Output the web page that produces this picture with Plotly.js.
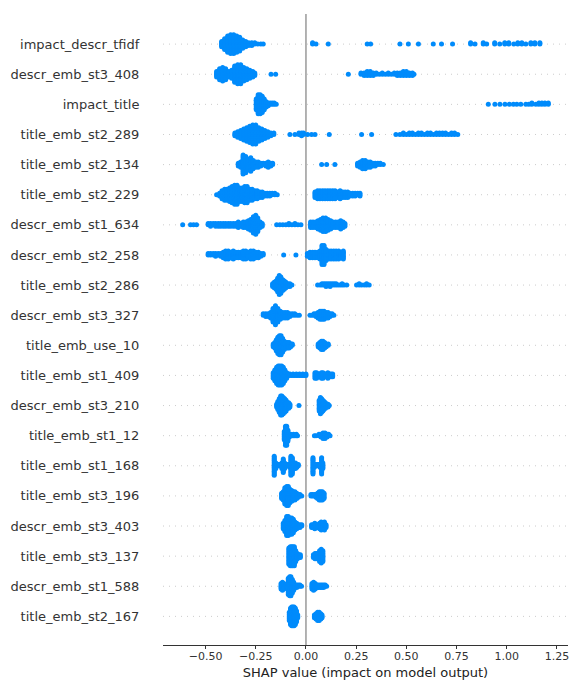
<!DOCTYPE html>
<html>
<head>
<meta charset="utf-8">
<script src="https://cdn.plot.ly/plotly-3.0.1.min.js"></script>
<style>html,body{margin:0;padding:0;background:#fff;}#chart{width:569px;height:680px;}</style>
</head>
<body>
<div id="chart"></div>
<script>
// Feature names, top to bottom
const features = ["impact_descr_tfidf","descr_emb_st3_408","impact_title","title_emb_st2_289","title_emb_st2_134","title_emb_st2_229","descr_emb_st1_634","descr_emb_st2_258","title_emb_st2_286","descr_emb_st3_327","title_emb_use_10","title_emb_st1_409","descr_emb_st3_210","title_emb_st1_12","title_emb_st1_168","title_emb_st3_196","descr_emb_st3_403","title_emb_st3_137","descr_emb_st1_588","title_emb_st2_167"];

// SHAP values per feature as [value, number of samples at that value]
const impact_descr_tfidf = [[-0.420,5],[-0.405,9],[-0.390,13],[-0.375,15],[-0.360,15],[-0.345,13],[-0.330,11],[-0.315,7],[-0.300,5],[-0.285,3],[-0.270,3],[-0.255,2],[-0.240,1],[-0.225,1],[-0.213,1],[0.033,2],[0.050,1],[0.111,1],[0.305,1],[0.322,1],[0.468,1],[0.510,1],[0.560,1],[0.634,1],[0.675,1],[0.730,1],[0.820,2],[0.842,1],[0.883,2],[0.900,1],[0.940,2],[0.965,1],[0.990,2],[1.010,2],[1.035,1],[1.055,2],[1.075,2],[1.095,1],[1.120,2],[1.140,2],[1.165,2]];
const descr_emb_st3_408 = [[-0.445,5],[-0.430,9],[-0.415,11],[-0.400,9],[-0.385,5],[-0.370,7],[-0.355,13],[-0.340,15],[-0.325,15],[-0.310,11],[-0.295,9],[-0.280,7],[-0.265,5],[-0.255,3],[-0.174,1],[-0.151,1],[0.211,1],[0.274,2],[0.290,3],[0.305,4],[0.320,4],[0.335,3],[0.350,2],[0.365,1],[0.380,2],[0.395,1],[0.410,2],[0.425,1],[0.440,2],[0.455,3],[0.470,3],[0.485,4],[0.500,4],[0.515,3],[0.530,3],[0.538,1]];
const impact_title = [[-0.248,9],[-0.238,15],[-0.228,15],[-0.218,13],[-0.208,9],[-0.198,5],[-0.188,3],[-0.178,2],[-0.168,2],[-0.158,2],[-0.148,1],[0.908,1],[0.941,1],[0.966,1],[0.991,1],[1.013,1],[1.033,1],[1.050,1],[1.070,1],[1.095,1],[1.110,1],[1.125,2],[1.145,1],[1.160,2],[1.175,2],[1.190,2],[1.207,2]];
const title_emb_st2_289 = [[-0.354,3],[-0.340,5],[-0.325,7],[-0.310,9],[-0.295,11],[-0.280,13],[-0.265,15],[-0.250,15],[-0.235,11],[-0.220,9],[-0.205,7],[-0.190,5],[-0.175,3],[-0.160,2],[-0.080,1],[-0.055,1],[-0.035,2],[-0.022,3],[-0.012,2],[0.008,1],[0.028,1],[0.045,1],[0.116,1],[0.277,1],[0.327,1],[0.448,1],[0.468,1],[0.485,2],[0.500,1],[0.515,2],[0.530,2],[0.545,1],[0.560,2],[0.575,2],[0.590,1],[0.605,2],[0.620,2],[0.635,1],[0.650,2],[0.665,2],[0.680,2],[0.695,2],[0.710,1],[0.725,2],[0.740,2],[0.756,1]];
const title_emb_st2_134 = [[-0.337,3],[-0.325,5],[-0.313,15],[-0.300,13],[-0.288,9],[-0.275,11],[-0.263,7],[-0.250,5],[-0.238,5],[-0.225,3],[-0.213,2],[-0.200,3],[-0.188,5],[-0.175,3],[-0.166,2],[0.078,1],[0.103,1],[0.144,1],[0.257,3],[0.270,5],[0.282,7],[0.295,7],[0.308,5],[0.320,5],[0.333,3],[0.345,3],[0.358,2],[0.370,2],[0.385,1]];
const title_emb_st2_229 = [[-0.445,1],[-0.430,3],[-0.418,7],[-0.405,9],[-0.393,9],[-0.380,11],[-0.368,13],[-0.355,15],[-0.343,15],[-0.330,11],[-0.318,11],[-0.305,13],[-0.293,13],[-0.280,9],[-0.268,9],[-0.255,7],[-0.243,7],[-0.230,5],[-0.218,5],[-0.205,3],[-0.193,3],[-0.180,3],[-0.168,2],[-0.155,2],[-0.143,1],[0.045,5],[0.058,7],[0.070,7],[0.083,7],[0.095,7],[0.108,7],[0.120,7],[0.133,7],[0.145,7],[0.158,5],[0.170,7],[0.183,5],[0.195,5],[0.208,5],[0.220,3],[0.233,3],[0.245,3],[0.258,2],[0.269,3]];
const descr_emb_st1_634 = [[-0.614,1],[-0.575,1],[-0.560,1],[-0.545,1],[-0.487,2],[-0.475,3],[-0.462,2],[-0.450,3],[-0.437,3],[-0.425,3],[-0.412,3],[-0.400,3],[-0.387,3],[-0.375,3],[-0.362,3],[-0.350,3],[-0.337,5],[-0.325,3],[-0.312,5],[-0.300,5],[-0.287,7],[-0.275,9],[-0.262,13],[-0.250,15],[-0.240,11],[-0.228,5],[-0.218,3],[-0.146,1],[-0.130,1],[-0.115,1],[-0.100,1],[-0.085,2],[-0.070,1],[-0.055,2],[-0.040,1],[-0.025,1],[0.023,5],[0.035,5],[0.048,5],[0.060,7],[0.073,9],[0.085,11],[0.098,11],[0.110,9],[0.123,7],[0.135,5],[0.148,5],[0.160,5],[0.173,7],[0.185,5],[0.194,3]];
const descr_emb_st2_258 = [[-0.487,2],[-0.475,2],[-0.462,2],[-0.450,3],[-0.437,2],[-0.425,3],[-0.412,5],[-0.400,7],[-0.387,7],[-0.375,5],[-0.362,7],[-0.350,5],[-0.337,5],[-0.325,5],[-0.312,7],[-0.300,7],[-0.287,5],[-0.275,7],[-0.262,7],[-0.250,5],[-0.237,5],[-0.225,3],[-0.213,2],[-0.111,1],[-0.050,1],[0.007,3],[0.020,5],[0.033,5],[0.045,5],[0.058,5],[0.070,7],[0.080,15],[0.090,15],[0.100,9],[0.113,7],[0.125,7],[0.138,7],[0.150,7],[0.163,7],[0.175,5],[0.186,7]];
const title_emb_st2_286 = [[-0.166,3],[-0.158,5],[-0.149,7],[-0.141,11],[-0.133,15],[-0.125,13],[-0.116,9],[-0.108,7],[-0.100,5],[-0.090,3],[-0.080,3],[-0.070,1],[0.058,1],[0.070,1],[0.080,2],[0.090,2],[0.100,3],[0.110,2],[0.120,3],[0.130,2],[0.140,2],[0.150,2],[0.160,1],[0.170,1],[0.180,2],[0.190,1],[0.203,1],[0.252,1],[0.265,2],[0.277,1],[0.290,1],[0.302,2],[0.315,1]];
const descr_emb_st3_327 = [[-0.213,2],[-0.200,3],[-0.188,3],[-0.176,5],[-0.164,11],[-0.152,15],[-0.140,11],[-0.128,7],[-0.116,5],[-0.104,5],[-0.092,5],[-0.080,3],[-0.068,2],[-0.056,2],[-0.044,1],[-0.033,1],[0.020,1],[0.030,1],[0.040,2],[0.050,3],[0.060,5],[0.070,7],[0.080,7],[0.090,7],[0.100,5],[0.110,5],[0.120,3],[0.130,2],[0.139,1]];
const title_emb_use_10 = [[-0.163,3],[-0.155,5],[-0.148,9],[-0.140,13],[-0.132,15],[-0.124,15],[-0.116,11],[-0.108,7],[-0.100,5],[-0.092,5],[-0.084,5],[-0.076,3],[-0.068,2],[0.061,3],[0.069,5],[0.077,7],[0.085,7],[0.093,5],[0.101,3],[0.111,2]];
const title_emb_st1_409 = [[-0.163,5],[-0.155,9],[-0.146,13],[-0.138,15],[-0.130,15],[-0.121,15],[-0.113,13],[-0.105,9],[-0.096,5],[-0.088,2],[-0.080,2],[-0.072,1],[-0.064,2],[-0.056,1],[-0.048,2],[-0.040,1],[-0.032,2],[-0.024,1],[-0.016,2],[-0.008,1],[0.000,2],[0.045,5],[0.053,5],[0.061,3],[0.069,3],[0.077,5],[0.085,5],[0.093,3],[0.101,3],[0.109,5],[0.117,3],[0.125,3],[0.133,3]];
const descr_emb_st3_210 = [[-0.146,3],[-0.140,7],[-0.133,11],[-0.126,15],[-0.120,15],[-0.113,13],[-0.106,11],[-0.099,9],[-0.093,5],[-0.086,5],[-0.080,3],[-0.035,1],[0.066,9],[0.072,13],[0.078,11],[0.084,9],[0.090,7],[0.097,5],[0.103,3],[0.110,3],[0.116,1]];
const title_emb_st1_12 = [[-0.108,7],[-0.102,15],[-0.096,15],[-0.090,9],[-0.083,3],[-0.076,2],[-0.069,1],[-0.062,2],[-0.055,1],[-0.048,2],[-0.042,1],[0.042,1],[0.050,1],[0.065,2],[0.075,3],[0.085,5],[0.095,5],[0.105,3],[0.113,2],[0.120,1]];
const title_emb_st1_168 = [[-0.158,15],[-0.150,5],[-0.143,2],[-0.136,2],[-0.128,2],[-0.120,5],[-0.113,11],[-0.106,5],[-0.098,2],[-0.090,2],[-0.082,3],[-0.075,15],[-0.068,13],[-0.060,5],[-0.052,5],[-0.045,3],[-0.038,2],[0.035,13],[0.042,3],[0.049,2],[0.056,2],[0.063,2],[0.070,3],[0.078,13],[0.084,5]];
const title_emb_st3_196 = [[-0.121,5],[-0.113,7],[-0.105,13],[-0.096,15],[-0.088,15],[-0.080,11],[-0.071,9],[-0.063,7],[-0.055,7],[-0.046,5],[-0.038,3],[-0.030,2],[-0.021,1],[0.025,2],[0.033,2],[0.042,2],[0.050,3],[0.058,5],[0.066,7],[0.074,7],[0.082,7],[0.090,5]];
const descr_emb_st3_403 = [[-0.113,5],[-0.105,9],[-0.096,15],[-0.088,15],[-0.080,13],[-0.071,13],[-0.063,11],[-0.055,7],[-0.046,5],[-0.038,3],[-0.030,3],[-0.021,2],[0.028,3],[0.036,3],[0.044,5],[0.052,3],[0.060,3],[0.068,5],[0.076,7],[0.084,5],[0.092,7],[0.100,3]];
const title_emb_st3_137 = [[-0.085,13],[-0.078,15],[-0.071,15],[-0.065,15],[-0.058,15],[-0.051,9],[-0.043,5],[-0.036,3],[-0.028,3],[0.037,3],[0.045,5],[0.052,5],[0.060,5],[0.068,9],[0.076,11],[0.084,9]];
const descr_emb_st1_588 = [[-0.124,5],[-0.117,7],[-0.110,5],[-0.102,2],[-0.095,3],[-0.088,13],[-0.081,15],[-0.075,15],[-0.068,11],[-0.061,7],[-0.054,3],[-0.046,3],[-0.038,2],[-0.030,2],[-0.022,1],[0.030,5],[0.038,7],[0.046,5],[0.055,3],[0.063,3],[0.072,3],[0.080,3],[0.088,3],[0.096,2],[0.103,1]];
const title_emb_st2_167 = [[-0.083,7],[-0.077,13],[-0.071,15],[-0.065,15],[-0.059,15],[-0.053,13],[-0.047,9],[-0.041,3],[0.042,3],[0.050,5],[0.058,7],[0.066,7],[0.074,5],[0.080,3]];

const xTicks = [-0.5, -0.25, 0, 0.25, 0.5, 0.75, 1.0, 1.25];

const rows = [impact_descr_tfidf, descr_emb_st3_408, impact_title, title_emb_st2_289, title_emb_st2_134, title_emb_st2_229, descr_emb_st1_634, descr_emb_st2_258, title_emb_st2_286, descr_emb_st3_327, title_emb_use_10, title_emb_st1_409, descr_emb_st3_210, title_emb_st1_12, title_emb_st1_168, title_emb_st3_196, descr_emb_st3_403, title_emb_st3_137, descr_emb_st1_588, title_emb_st2_167];

// Beeswarm layout (shap-style layering of samples that share a value)
const N = features.length;
const X = [], Y = [], T = [];
rows.forEach((row, i) => {
  const pos = N - 1 - i;
  const pts = [];
  let maxL = 0;
  row.forEach(([v, n]) => {
    for (let k = 0; k < n; k++) {
      const l = Math.ceil(k / 2) * ((k % 2) * 2 - 1);
      pts.push([v, l]);
      if (l > maxL) maxL = l;
    }
  });
  const scale = 0.9 * 0.4 / (maxL + 1);
  pts.forEach(([v, l]) => { X.push(v); Y.push(pos + l * scale); T.push(features[i]); });
});

const tickPos = features.map((_, i) => N - 1 - i);
const shapes = tickPos.map(p => ({
  type: 'line', xref: 'paper', x0: 0, x1: 1, yref: 'y', y0: p, y1: p,
  line: {color: '#cccccc', width: 1, dash: '1px,5px'}, layer: 'below'
}));
shapes.push({type: 'line', xref: 'x', x0: 0, x1: 0, yref: 'paper', y0: 0, y1: 1,
  line: {color: '#999999', width: 1.5}, layer: 'below'});

const font = 'DejaVu Sans, sans-serif';
Plotly.newPlot('chart', [{
  type: 'scatter', mode: 'markers', x: X, y: Y, text: T,
  marker: {color: '#008bfb', size: 5, line: {width: 0}},
  hoverinfo: 'text+x', showlegend: false
}], {
  width: 569, height: 680,
  margin: {l: 163, r: 1, t: 14, b: 35},
  paper_bgcolor: '#ffffff', plot_bgcolor: '#ffffff',
  font: {family: font, color: '#333333'},
  xaxis: {
    range: [-0.712, 1.305], tickvals: xTicks, tickformat: '.2f',
    showgrid: false, zeroline: false, showline: true, linecolor: '#333333', linewidth: 1,
    ticks: 'outside', ticklen: 3, tickcolor: '#333333',
    ticklabelstandoff: -2, ticklabeloverflow: 'allow',
    tickfont: {size: 11, family: font, color: '#333333'},
    title: {text: 'SHAP value (impact on model output)', font: {size: 13, family: font, color: '#222222'}, standoff: 5},
    automargin: false
  },
  yaxis: {
    range: [-0.95, N], tickvals: tickPos, ticktext: features,
    showgrid: false, zeroline: false, showline: false,
    ticks: 'outside', ticklen: 20, tickcolor: 'rgba(0,0,0,0)',
    tickfont: {size: 13, family: font, color: '#333333'},
    automargin: false
  },
  shapes: shapes
}, {staticPlot: true});
</script>
</body>
</html>
